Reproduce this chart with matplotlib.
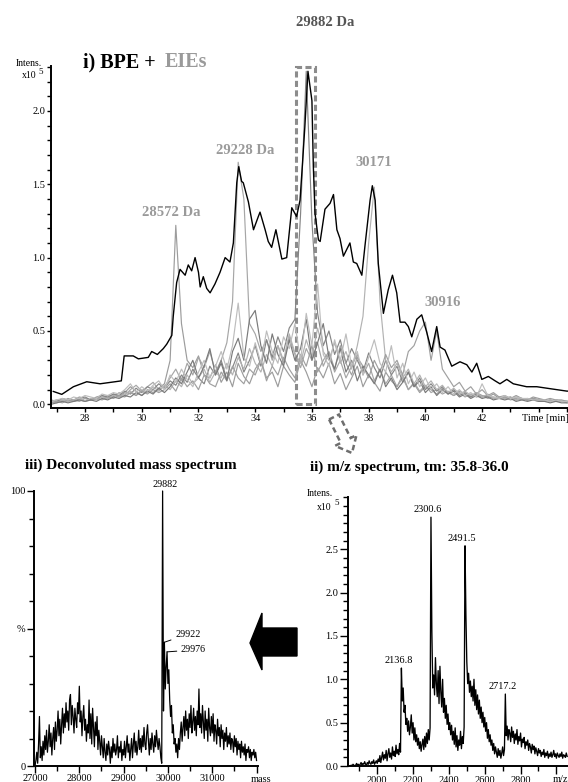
import numpy as np
import matplotlib
matplotlib.use('Agg')
import matplotlib.pyplot as plt
from matplotlib.patches import Polygon, Rectangle
from matplotlib.ticker import MultipleLocator, FixedLocator, FuncFormatter

# ---------------- data ----------------
# i) base peak electropherogram (BPE), intensity x1e5
bpe_time = [26.88, 27.18, 27.59, 28.06, 28.53, 29.06, 29.28, 29.38, 29.70, 29.88,
            30.23, 30.35, 30.55, 30.76, 30.88, 31.06, 31.11, 31.23, 31.35, 31.53,
            31.64, 31.76, 31.88, 32.00, 32.06, 32.17, 32.29, 32.41, 32.58, 32.76,
            32.94, 33.11, 33.23, 33.35, 33.42, 33.52, 33.58, 33.76, 33.94, 34.11,
            34.17, 34.35, 34.46, 34.58, 34.73, 34.94, 35.11, 35.29, 35.46, 35.58,
            35.66, 35.75, 35.86, 36.00, 36.05, 36.11, 36.23, 36.29, 36.46, 36.64,
            36.76, 36.88, 36.99, 37.11, 37.34, 37.46, 37.58, 37.76, 37.87, 38.05,
            38.13, 38.23, 38.34, 38.52, 38.69, 38.84, 38.99, 39.11, 39.28, 39.40,
            39.52, 39.70, 39.87, 40.05, 40.22, 40.40, 40.52, 40.69, 40.93, 41.22,
            41.46, 41.64, 41.81, 41.99, 42.22, 42.46, 42.63, 42.87, 43.10, 43.57,
            43.93, 44.28, 44.99, 45.10]
bpe_int = [0.088, 0.068, 0.12, 0.154, 0.14, 0.154, 0.16, 0.33, 0.33, 0.31,
           0.32, 0.36, 0.34, 0.38, 0.41, 0.47, 0.60, 0.83, 0.92, 0.88,
           0.95, 0.91, 1.00, 0.90, 0.80, 0.87, 0.79, 0.76, 0.82, 0.90,
           1.00, 0.97, 1.10, 1.51, 1.62, 1.52, 1.51, 1.38, 1.19, 1.28,
           1.31, 1.19, 1.11, 1.07, 1.19, 0.99, 1.00, 1.34, 1.28, 1.39,
           1.62, 1.89, 2.27, 2.07, 1.62, 1.30, 1.12, 1.11, 1.33, 1.37,
           1.43, 1.19, 1.13, 1.01, 1.10, 0.97, 0.96, 0.88, 1.08, 1.39,
           1.49, 1.39, 0.96, 0.62, 0.78, 0.88, 0.76, 0.56, 0.56, 0.53,
           0.46, 0.58, 0.61, 0.49, 0.36, 0.53, 0.39, 0.37, 0.26, 0.29,
           0.27, 0.22, 0.28, 0.17, 0.19, 0.16, 0.14, 0.17, 0.14, 0.12,
           0.12, 0.11, 0.09, 0.09]

# extracted ion electropherograms (EIEs), sampled every 0.2 min from 26.8 to 45.0
eie_time = np.linspace(26.8, 45.0, 92)
eie_28572 = [0.02, 0.03, 0.02, 0.04, 0.03, 0.05, 0.04, 0.03, 0.05, 0.06,
             0.04, 0.07, 0.05, 0.08, 0.12, 0.09, 0.06, 0.10, 0.08, 0.11,
             0.14, 0.30, 1.22, 0.55, 0.30, 0.25, 0.33, 0.20, 0.18, 0.27,
             0.15, 0.22, 0.12, 0.28, 0.19, 0.14, 0.24, 0.30, 0.18, 0.22,
             0.12, 0.26, 0.20, 0.15, 0.30, 0.22, 0.12, 0.25, 0.18, 0.28,
             0.14, 0.21, 0.10, 0.18, 0.26, 0.12, 0.20, 0.15, 0.09, 0.22,
             0.16, 0.12, 0.20, 0.10, 0.14, 0.08, 0.12, 0.10, 0.07, 0.11,
             0.08, 0.06, 0.09, 0.07, 0.05, 0.08, 0.06, 0.05, 0.07, 0.04,
             0.05, 0.04, 0.06, 0.04, 0.03, 0.05, 0.04, 0.03, 0.04, 0.03,
             0.03, 0.02]
eie_29228 = [0.01, 0.02, 0.03, 0.02, 0.03, 0.02, 0.04, 0.03, 0.04, 0.05,
             0.06, 0.05, 0.08, 0.06, 0.10, 0.13, 0.09, 0.12, 0.15, 0.10,
             0.12, 0.18, 0.24, 0.16, 0.28, 0.20, 0.32, 0.25, 0.36, 0.22,
             0.30, 0.42, 0.70, 1.65, 1.40, 0.55, 0.48, 0.36, 0.44, 0.30,
             0.40, 0.28, 0.46, 0.34, 0.25, 0.38, 0.30, 0.42, 0.26, 0.35,
             0.22, 0.30, 0.18, 0.26, 0.34, 0.20, 0.28, 0.16, 0.24, 0.14,
             0.20, 0.12, 0.18, 0.10, 0.15, 0.09, 0.13, 0.08, 0.10, 0.07,
             0.09, 0.06, 0.08, 0.05, 0.07, 0.05, 0.06, 0.04, 0.05, 0.04,
             0.05, 0.03, 0.04, 0.03, 0.04, 0.03, 0.03, 0.02, 0.03, 0.02,
             0.02, 0.02]
eie_29882 = [0.03, 0.02, 0.04, 0.03, 0.02, 0.04, 0.05, 0.03, 0.04, 0.06,
             0.05, 0.07, 0.06, 0.09, 0.07, 0.11, 0.08, 0.12, 0.10, 0.14,
             0.11, 0.16, 0.13, 0.20, 0.15, 0.24, 0.18, 0.14, 0.26, 0.20,
             0.30, 0.17, 0.25, 0.35, 0.22, 0.30, 0.40, 0.26, 0.44, 0.32,
             0.46, 0.36, 0.52, 0.58, 1.30, 2.27, 1.25, 0.62, 0.40, 0.50,
             0.34, 0.44, 0.28, 0.38, 0.30, 0.22, 0.35, 0.25, 0.18, 0.30,
             0.20, 0.26, 0.15, 0.22, 0.12, 0.18, 0.10, 0.14, 0.09, 0.12,
             0.07, 0.10, 0.06, 0.08, 0.05, 0.07, 0.05, 0.06, 0.04, 0.05,
             0.04, 0.05, 0.03, 0.04, 0.03, 0.04, 0.03, 0.03, 0.02, 0.03,
             0.02, 0.02]
eie_30171 = [0.02, 0.01, 0.03, 0.02, 0.03, 0.04, 0.02, 0.04, 0.03, 0.05,
             0.04, 0.06, 0.05, 0.07, 0.09, 0.06, 0.10, 0.08, 0.12, 0.09,
             0.13, 0.10, 0.16, 0.12, 0.20, 0.14, 0.18, 0.24, 0.15, 0.22,
             0.18, 0.28, 0.20, 0.32, 0.24, 0.38, 0.28, 0.22, 0.34, 0.26,
             0.40, 0.30, 0.48, 0.35, 0.28, 0.44, 0.32, 0.52, 0.36, 0.30,
             0.42, 0.28, 0.36, 0.24, 0.40, 0.60, 1.10, 1.48, 0.70, 0.30,
             0.22, 0.28, 0.18, 0.24, 0.14, 0.20, 0.12, 0.16, 0.10, 0.13,
             0.08, 0.11, 0.07, 0.09, 0.06, 0.08, 0.05, 0.07, 0.04, 0.05,
             0.04, 0.05, 0.03, 0.04, 0.03, 0.03, 0.02, 0.03, 0.02, 0.02,
             0.02, 0.01]
eie_30916 = [0.01, 0.02, 0.01, 0.03, 0.02, 0.03, 0.02, 0.03, 0.04, 0.03,
             0.05, 0.04, 0.06, 0.05, 0.08, 0.06, 0.09, 0.07, 0.10, 0.08,
             0.10, 0.14, 0.09, 0.18, 0.12, 0.16, 0.10, 0.20, 0.14, 0.12,
             0.22, 0.16, 0.26, 0.18, 0.14, 0.24, 0.20, 0.30, 0.16, 0.26,
             0.20, 0.32, 0.24, 0.18, 0.34, 0.26, 0.40, 0.22, 0.30, 0.36,
             0.24, 0.40, 0.28, 0.20, 0.32, 0.26, 0.18, 0.30, 0.22, 0.34,
             0.25, 0.30, 0.20, 0.36, 0.40, 0.50, 0.56, 0.30, 0.50, 0.24,
             0.18, 0.12, 0.15, 0.09, 0.12, 0.07, 0.10, 0.06, 0.08, 0.05,
             0.06, 0.04, 0.05, 0.04, 0.03, 0.04, 0.03, 0.02, 0.03, 0.02,
             0.02, 0.02]
eie_other1 = [0.00, 0.01, 0.02, 0.01, 0.02, 0.03, 0.02, 0.03, 0.02, 0.04,
              0.03, 0.05, 0.04, 0.06, 0.05, 0.08, 0.06, 0.09, 0.07, 0.11,
              0.08, 0.12, 0.18, 0.14, 0.22, 0.30, 0.18, 0.26, 0.38, 0.20,
              0.28, 0.16, 0.36, 0.45, 0.30, 0.58, 0.64, 0.40, 0.28, 0.48,
              0.34, 0.26, 0.44, 0.30, 0.38, 0.58, 0.30, 0.42, 0.55, 0.32,
              0.24, 0.38, 0.22, 0.30, 0.16, 0.26, 0.20, 0.14, 0.24, 0.12,
              0.18, 0.10, 0.15, 0.22, 0.12, 0.16, 0.08, 0.12, 0.06, 0.10,
              0.07, 0.09, 0.05, 0.07, 0.04, 0.06, 0.04, 0.05, 0.03, 0.04,
              0.03, 0.04, 0.02, 0.03, 0.02, 0.03, 0.02, 0.02, 0.01, 0.02,
              0.01, 0.01]
eie_other2 = [0.02, 0.03, 0.04, 0.03, 0.05, 0.04, 0.06, 0.05, 0.04, 0.07,
              0.06, 0.08, 0.07, 0.10, 0.14, 0.08, 0.12, 0.09, 0.13, 0.16,
              0.10, 0.20, 0.15, 0.24, 0.17, 0.12, 0.22, 0.30, 0.18, 0.26,
              0.36, 0.24, 0.40, 0.69, 0.32, 0.26, 0.42, 0.28, 0.50, 0.36,
              0.28, 0.46, 0.38, 0.55, 0.30, 0.62, 0.40, 0.82, 0.34, 0.26,
              0.44, 0.30, 0.48, 0.26, 0.36, 0.20, 0.32, 0.44, 0.28, 0.22,
              0.40, 0.18, 0.28, 0.14, 0.22, 0.12, 0.18, 0.10, 0.14, 0.08,
              0.12, 0.07, 0.10, 0.06, 0.08, 0.05, 0.14, 0.06, 0.05, 0.04,
              0.06, 0.04, 0.05, 0.04, 0.04, 0.03, 0.03, 0.03, 0.02, 0.03,
              0.02, 0.02]
eie_series = [eie_28572, eie_29228, eie_29882, eie_30171, eie_30916, eie_other1, eie_other2]
eie_colors = ['#9c9c9c', '#a6a6a6', '#858585', '#b2b2b2', '#a0a0a0', '#7a7a7a', '#bdbdbd']
eie_labels = ['28572 Da', '29228 Da', '29882 Da', '30171', '30916']

# iii) deconvoluted mass spectrum, mass 27000..32000 every 20 Da, relative %
deconv_mass = np.arange(27000, 32001, 20)
deconv_pct = [0, 2, 5, 1, 8, 18, 3, 7, 2, 9,
              4, 11, 6, 13, 5, 9, 15, 7, 12, 4,
              10, 14, 6, 16, 9, 13, 20, 11, 17, 8,
              15, 21, 12, 19, 14, 23, 16, 20, 13, 24,
              26, 15, 22, 18, 12, 21, 17, 14, 23, 19,
              29, 16, 20, 11, 18, 22, 13, 17, 9, 15,
              12, 24, 10, 19, 8, 21, 14, 7, 16, 11,
              18, 6, 13, 9, 4, 11, 7, 3, 10, 5,
              2, 8, 4, 9, 6, 1, 7, 3, 10, 5,
              8, 4, 6, 11, 3, 7, 5, 9, 2, 6,
              4, 9, 3, 7, 11, 5, 8, 2, 6, 10,
              3, 8, 12, 5, 9, 4, 7, 13, 6, 10,
              5, 11, 7, 14, 8, 6, 12, 15, 9, 4,
              10, 6, 12, 8, 5, 11, 7, 13, 9, 6,
              10, 7, 3, 1, 100, 20, 45, 28, 36, 41.5,
              30, 35, 24, 18, 22, 12, 15, 8, 10, 5,
              8, 3, 10, 6, 12, 16, 9, 14, 18, 11,
              20, 13, 17, 10, 19, 14, 22, 12, 16, 21,
              13, 18, 11, 20, 15, 28, 14, 19, 12, 22,
              16, 10, 20, 13, 17, 9, 21, 14, 11, 18,
              12, 19, 9, 15, 13, 8, 17, 11, 14, 7,
              15, 10, 13, 6, 12, 9, 14, 7, 11, 8,
              12, 6, 10, 9, 5, 11, 7, 10, 4, 9,
              6, 8, 3, 9, 5, 7, 4, 8, 2, 6,
              5, 7, 3, 6, 2, 5, 4, 6, 3, 5, 2]
deconv_peaks = [29880, 29920, 29980]
deconv_peak_labels = ['29882', '29922', '29976']

# ii) m/z spectrum, m/z 1850..3060 every 5, intensity x1e5
mz_values = np.arange(1850, 3061, 5)
mz_int = [0.00, 0.01, 0.00, 0.02, 0.01, 0.00, 0.01, 0.03, 0.01, 0.02,
          0.00, 0.02, 0.04, 0.01, 0.03, 0.02, 0.05, 0.02, 0.01, 0.04,
          0.02, 0.06, 0.03, 0.02, 0.05, 0.03, 0.07, 0.02, 0.04, 0.06,
          0.03, 0.08, 0.05, 0.12, 0.04, 0.10, 0.16, 0.07, 0.13, 0.09,
          0.18, 0.06, 0.14, 0.20, 0.10, 0.15, 0.08, 0.22, 0.12, 0.17,
          0.11, 0.24, 0.14, 0.19, 0.13, 0.26, 0.16,
          1.13,
          0.75, 0.90, 0.62, 0.70, 0.48, 0.55, 0.40, 0.52, 0.36, 0.45,
          0.59, 0.38, 0.50, 0.30, 0.44, 0.28, 0.36, 0.24, 0.32, 0.20,
          0.28, 0.17, 0.25, 0.31, 0.19, 0.34, 0.22, 0.38, 0.26, 0.42,
          0.30, 0.44,
          2.87,
          1.55, 0.90, 1.05, 0.82, 1.25, 0.95, 0.80, 1.10, 0.72, 1.15,
          0.85, 0.68, 1.00, 0.62, 0.78, 0.55, 0.70, 0.48, 0.60, 0.42,
          0.50, 0.36, 0.47, 0.30, 0.40, 0.25, 0.44, 0.22, 0.35, 0.18,
          0.30, 0.24, 0.40, 0.20, 0.34, 0.26, 0.45,
          2.54,
          1.74, 1.20, 0.95, 1.07, 0.85, 0.98, 0.80, 0.92, 0.75, 1.00,
          0.70, 0.88, 0.65, 0.82, 0.60, 0.76, 0.55, 0.68, 0.50, 0.62,
          0.45, 0.56, 0.40, 0.50, 0.32, 0.42, 0.28, 0.36, 0.24, 0.30,
          0.18, 0.26, 0.14, 0.22, 0.16, 0.10, 0.20, 0.12, 0.18, 0.09,
          0.15, 0.22, 0.12, 0.19,
          0.83,
          0.35, 0.46, 0.30, 0.42, 0.38, 0.28, 0.45, 0.33, 0.40, 0.26,
          0.37, 0.30, 0.42, 0.25, 0.34, 0.29, 0.38, 0.22, 0.31, 0.27,
          0.33, 0.20, 0.28, 0.24, 0.30, 0.18, 0.26, 0.22, 0.15, 0.25,
          0.19, 0.23, 0.14, 0.21, 0.17, 0.12, 0.20, 0.15, 0.18, 0.11,
          0.16, 0.13, 0.19, 0.10, 0.15, 0.12, 0.17, 0.09, 0.14, 0.11,
          0.16, 0.10, 0.13, 0.18, 0.11, 0.14, 0.09, 0.15, 0.12, 0.10,
          0.14, 0.11, 0.16, 0.09, 0.13, 0.12, 0.10, 0.15, 0.11]
mz_peaks = [2135, 2300, 2490, 2715]
mz_peak_labels = ['2136.8', '2300.6', '2491.5', '2717.2']

# ---------------- figure ----------------
W, H, DPI = 568, 782, 100
plt.rcParams['font.family'] = ['Liberation Serif', 'DejaVu Serif']
fig = plt.figure(figsize=(W / DPI, H / DPI), dpi=DPI)


def px_axes(x0, y0, x1, y1):
    return fig.add_axes([x0 / W, 1 - y1 / H, (x1 - x0) / W, (y1 - y0) / H])


def ptext(x, y, s, **kw):
    return fig.text(x / W, 1 - y / H, s, **kw)


def style(ax, maj, mnr):
    for s in ['top', 'right']:
        ax.spines[s].set_visible(False)
    for s in ['left', 'bottom']:
        ax.spines[s].set_linewidth(1.4)
    ax.tick_params(which='both', direction='out', width=1.0, colors='black',
                   labelsize=7.5, pad=1)
    ax.tick_params(which='major', length=maj)
    ax.tick_params(which='minor', length=mnr)
    ax.patch.set_alpha(0)


# ---- panel i ----
ax1 = px_axes(51, 66, 572, 408)
for vals, col in zip(eie_series, eie_colors):
    ax1.plot(eie_time, vals, color=col, lw=0.85)
ax1.plot(bpe_time, bpe_int, color='black', lw=1.0)
ax1.set_xlim(26.8, 45.17)
ax1.set_ylim(-0.025, 2.306)
style(ax1, 3.0, 3.0)
ax1.xaxis.set_major_locator(FixedLocator([28, 30, 32, 34, 36, 38, 40, 42, 44]))
ax1.xaxis.set_minor_locator(MultipleLocator(1))
ax1.xaxis.set_major_formatter(FuncFormatter(lambda v, p: '' if v > 43 else '%d' % v))
ax1.yaxis.set_major_locator(FixedLocator([0.0, 0.5, 1.0, 1.5, 2.0]))
ax1.yaxis.set_minor_locator(MultipleLocator(0.1))
ax1.yaxis.set_major_formatter(FuncFormatter(lambda v, p: '%.1f' % v))
ax1.add_patch(Rectangle((35.44, 0.0), 0.66, 2.30, fill=False, edgecolor='#8c8c8c',
                        lw=2.2, linestyle=(0, (2.0, 1.1)), clip_on=False))

ptext(42, 64, 'Intens.', ha='right', va='center', fontsize=7)
ptext(37, 76, 'x10', ha='right', va='center', fontsize=7)
ptext(38, 72, '5', ha='left', va='center', fontsize=6.5)
ptext(522, 419, 'Time [min]', ha='left', va='center', fontsize=7.5)

ptext(83, 67, 'i) BPE +', ha='left', va='baseline', fontsize=14.5, fontweight='bold')
ptext(165, 67, 'EIEs', ha='left', va='baseline', fontsize=14.5, fontweight='bold',
      color='#9a9a9a')

label_pos = [(171, 212, '#9a9a9a'), (245, 151, '#9a9a9a'), (325, 22, '#555555'),
             (374, 162, '#9a9a9a'), (443, 302, '#9a9a9a')]
for lab, (x, y, c) in zip(eie_labels, label_pos):
    ptext(x, y, lab, ha='center', va='center', fontsize=10.5, fontweight='bold', color=c)

# dashed hollow arrow between panels
tail = np.array([334.0, 417.0])
tip = np.array([352.0, 453.0])
d = (tip - tail) / np.linalg.norm(tip - tail)
nrm = np.array([-d[1], d[0]])
L = np.linalg.norm(tip - tail)
hl, sw, hw = 14.0, 5.5, 12.0
base = tail + d * (L - hl)
pts = [tail + nrm * sw, base + nrm * sw, base + nrm * hw, tip,
       base - nrm * hw, base - nrm * sw, tail - nrm * sw]
fig.add_artist(Polygon([(p[0] / W, 1 - p[1] / H) for p in pts], closed=True, fill=False,
                       edgecolor='#6e6e6e', lw=1.8, linestyle=(0, (2.2, 1.4)),
                       transform=fig.transFigure))

# big black arrow pointing left
big = [(250, 643), (262, 613), (262, 628), (297, 628), (297, 656), (262, 656), (262, 670)]
fig.add_artist(Polygon([(x / W, 1 - y / H) for x, y in big], closed=True,
                       facecolor='black', edgecolor='black', transform=fig.transFigure))

# ---- panel iii ----
ax3 = px_axes(34, 491, 258, 766)
ax3.plot(deconv_mass, deconv_pct, color='black', lw=0.9, clip_on=False)
ax3.set_xlim(26977, 32033)
ax3.set_ylim(0, 100)
style(ax3, 5.0, 3.6)
ax3.xaxis.set_major_locator(FixedLocator([27000, 28000, 29000, 30000, 31000, 32000]))
ax3.xaxis.set_minor_locator(MultipleLocator(500))
ax3.xaxis.set_major_formatter(FuncFormatter(lambda v, p: '' if v > 31500 else '%d' % v))
ax3.yaxis.set_major_locator(FixedLocator([0, 50, 100]))
ax3.yaxis.set_minor_locator(MultipleLocator(10))
ax3.yaxis.set_major_formatter(FuncFormatter(lambda v, p: {0: '0', 50: '%', 100: '100'}.get(int(round(v)), '')))
ptext(261, 779, 'mass', ha='center', va='center', fontsize=7.5)
ptext(25, 465, 'iii) Deconvoluted mass spectrum', ha='left', va='center',
      fontsize=11, fontweight='bold')
pk_int = [deconv_pct[list(deconv_mass).index(m)] for m in deconv_peaks]
ax3.annotate(deconv_peak_labels[0], xy=(deconv_peaks[0], pk_int[0]), xytext=(2, 1.5),
             textcoords='offset points', ha='center', va='bottom', fontsize=7.3,
             annotation_clip=False)
ax3.annotate(deconv_peak_labels[1], xy=(deconv_peaks[1], pk_int[1]), xytext=(7.7, 5.8),
             textcoords='offset points', ha='left', va='center', fontsize=7.3,
             arrowprops=dict(arrowstyle='-', lw=0.7, color='black', shrinkA=1, shrinkB=0))
ax3.annotate(deconv_peak_labels[2], xy=(deconv_peaks[2], pk_int[2]), xytext=(10, 1.4),
             textcoords='offset points', ha='left', va='center', fontsize=7.3,
             arrowprops=dict(arrowstyle='-', lw=0.7, color='black', shrinkA=1, shrinkB=0))

# ---- panel ii ----
ax2 = px_axes(348, 497, 572, 766)
ax2.plot(mz_values, mz_int, color='black', lw=0.95)
ax2.set_xlim(1837, 3087)
ax2.set_ylim(0, 3.103)
style(ax2, 6.0, 3.6)
ax2.xaxis.set_major_locator(FixedLocator([2000, 2200, 2400, 2600, 2800, 3000]))
ax2.xaxis.set_minor_locator(MultipleLocator(100))
ax2.xaxis.set_major_formatter(FuncFormatter(lambda v, p: '' if v > 2900 else '%d' % v))
ax2.yaxis.set_major_locator(FixedLocator([0.0, 0.5, 1.0, 1.5, 2.0, 2.5]))
ax2.yaxis.set_minor_locator(MultipleLocator(0.1))
ax2.yaxis.set_major_formatter(FuncFormatter(lambda v, p: '%.1f' % v))
ptext(553, 779, 'm/z', ha='left', va='center', fontsize=7.5)
ptext(333, 494, 'Intens.', ha='right', va='center', fontsize=7)
ptext(332, 507, 'x10', ha='right', va='center', fontsize=7)
ptext(334, 503, '5', ha='left', va='center', fontsize=6.5)
ptext(310, 467, 'ii) m/z spectrum, tm: 35.8-36.0', ha='left', va='center',
      fontsize=11, fontweight='bold')
mz_list = list(mz_values)
for m, lab in zip(mz_peaks, mz_peak_labels):
    v = mz_int[mz_list.index(m)]
    ax2.annotate(lab, xy=(m, v), xytext=(-2, 2), textcoords='offset points',
                 ha='center', va='bottom', fontsize=7.5)

fig.savefig('out.png', dpi=DPI)
